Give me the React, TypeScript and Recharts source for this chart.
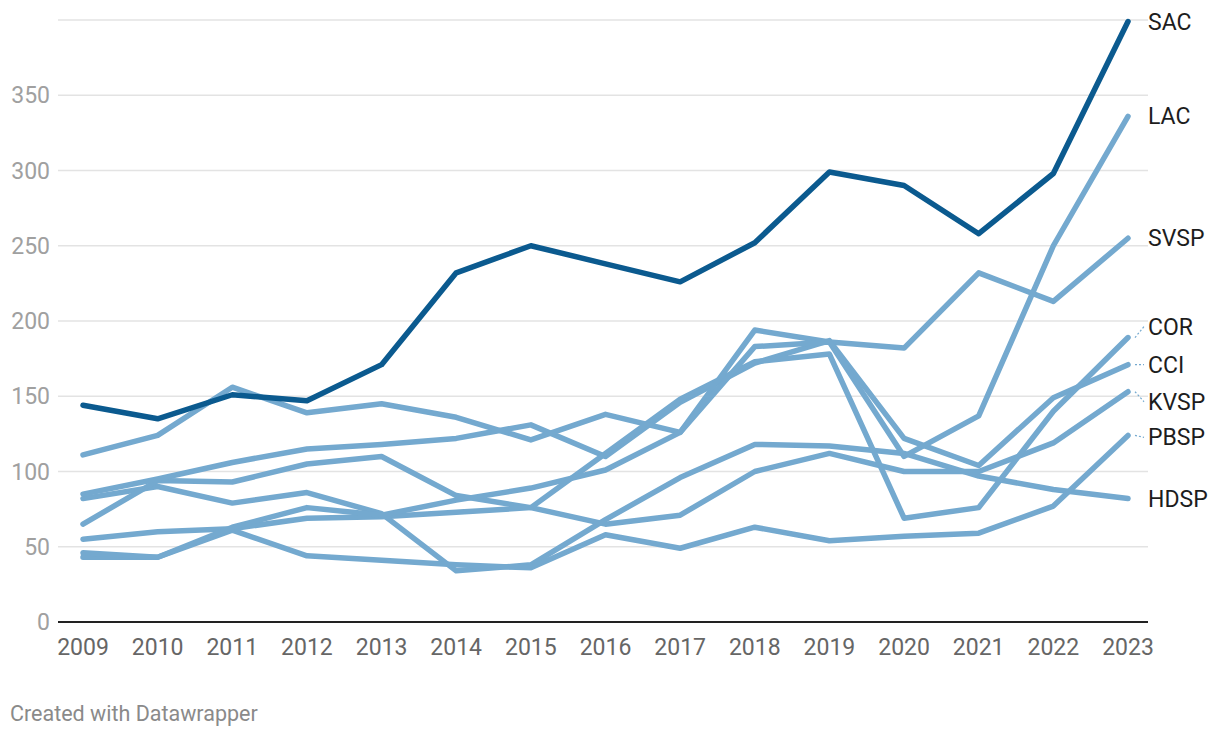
import React from "react";
import { LineChart, Line, XAxis, YAxis, CartesianGrid, LabelList } from "recharts";

const YEARS = [2009, 2010, 2011, 2012, 2013, 2014, 2015, 2016, 2017, 2018, 2019, 2020, 2021, 2022, 2023];

const SAC = [144, 135, 151, 147, 171, 232, 250, 238, 226, 252, 299, 290, 258, 298, 399];
const LAC = [46, 43, 63, 76, 71, 81, 89, 101, 126, 183, 186, 110, 137, 250, 336];
const SVSP = [111, 124, 156, 139, 145, 136, 121, 138, 126, 194, 186, 182, 232, 213, 255];
const COR = [55, 60, 62, 69, 70, 73, 76, 112, 148, 173, 178, 69, 76, 140, 189];
const CCI = [85, 95, 106, 115, 118, 122, 131, 110, 146, 172, 187, 122, 104, 149, 171];
const KVSP = [65, 94, 93, 105, 110, 84, 76, 65, 71, 100, 112, 100, 100, 119, 153];
const PBSP = [43, 43, 61, 44, 41, 38, 36, 58, 49, 63, 54, 57, 59, 77, 124];
const HDSP = [82, 90, 79, 86, 72, 34, 38, 68, 96, 118, 117, 112, 97, 88, 82];

const Y_TICKS = [0, 50, 100, 150, 200, 250, 300, 350];

const SERIES = [
  { name: "HDSP", values: HDSP },
  { name: "PBSP", values: PBSP },
  { name: "KVSP", values: KVSP },
  { name: "CCI", values: CCI },
  { name: "COR", values: COR },
  { name: "SVSP", values: SVSP },
  { name: "LAC", values: LAC },
  { name: "SAC", values: SAC },
];

// vertical nudges for the end labels so they don't collide
const LABEL_NUDGE: Record<string, number> = { COR: -11, KVSP: 10, PBSP: 2 };
const CONNECTOR = ["COR", "CCI", "KVSP", "PBSP"];

const DARK = "#0b5a8f";
const LIGHT = "#74a9cf";
const FONT = "Roboto, sans-serif";

const chartData = YEARS.map((year, i) => ({
  year,
  ...Object.fromEntries(SERIES.map((s) => [s.name, s.values[i]])),
}));

function endLabel(name: string, color: string) {
  return (props: any) => {
    const { x, y, index } = props;
    if (index !== YEARS.length - 1) return null;
    const ly = y + (LABEL_NUDGE[name] || 0);
    return (
      <g>
        {CONNECTOR.includes(name) && (
          <line x1={x + 7} y1={y} x2={x + 16} y2={ly} stroke={color} strokeWidth={1.2} strokeDasharray="2 2" />
        )}
        <text x={x + 20} y={ly} dy="0.35em" fontSize={23} fontFamily={FONT} fill="#1d1d1d">
          {name}
        </text>
      </g>
    );
  };
}

export default function App() {
  return (
    <div style={{ position: "relative", width: 1220, height: 738, background: "#fff" }}>
      <style>{`body{margin:0}`}</style>
      <LineChart width={1220} height={662} data={chartData} margin={{ top: 20, right: 72, bottom: 0, left: 0 }}>
        <CartesianGrid vertical={false} stroke="#e3e3e3" strokeWidth={1.5} />
        <XAxis
          dataKey="year"
          padding={{ left: 25, right: 20 }}
          tickLine={false}
          axisLine={{ stroke: "#222", strokeWidth: 2 }}
          tick={{ fontSize: 23, fontFamily: FONT, fill: "#666" }}
          tickMargin={11}
          height={40}
          interval={0}
        />
        <YAxis
          domain={[0, 400]}
          ticks={Y_TICKS}
          width={58}
          axisLine={false}
          tickLine={false}
          tickSize={0}
          tickMargin={8}
          tick={{ fontSize: 23, fontFamily: FONT, fill: "#a0a0a0" }}
        />
        {SERIES.map((s) => {
          const color = s.name === "SAC" ? DARK : LIGHT;
          return (
            <Line
              key={s.name}
              type="linear"
              dataKey={s.name}
              stroke={color}
              strokeWidth={5.5}
              dot={false}
              activeDot={false}
              strokeLinecap="round"
              strokeLinejoin="round"
              isAnimationActive={false}
            >
              <LabelList dataKey={s.name} content={endLabel(s.name, color)} />
            </Line>
          );
        })}
      </LineChart>
      <div style={{ position: "absolute", left: 10, top: 701, fontFamily: FONT, fontSize: 21.5, color: "#8a8a8a" }}>
        Created with Datawrapper
      </div>
    </div>
  );
}
